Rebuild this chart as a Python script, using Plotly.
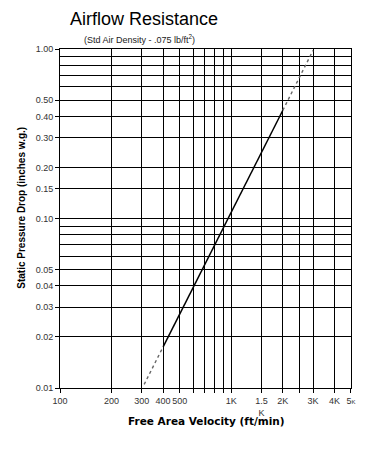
import plotly.graph_objects as go

# Curve (velocity ft/min, pressure in. w.g.)
low_v = [310, 400]
low_p = [0.0105, 0.0175]
solid_v = [400, 500, 600, 700, 800, 900, 1000, 1500, 2000]
solid_p = [0.0175, 0.0273, 0.039, 0.054, 0.070, 0.089, 0.109, 0.245, 0.435]
high_v = [2000, 2500, 3000]
high_p = [0.435, 0.68, 0.98]

x_tickvals = [100, 200, 300, 400, 500, 1000, 1500, 2000, 3000, 4000, 5000]
x_ticktext = ["100", "200", "300", "400", "500", "1K", "1.5<br>K", "2K", "3K", "4K",
              "5<span style='font-size:6px'>K</span>"]
x_minor = [600, 700, 800, 900, 2500]
y_tickvals = [0.01, 0.02, 0.03, 0.04, 0.05, 0.10, 0.15, 0.20, 0.30, 0.40, 0.50, 1.00]
y_ticktext = ["0.01", "0.02", "0.03", "0.04", "0.05", "0.10", "0.15", "0.20", "0.30", "0.40", "0.50", "1.00"]
y_minor = [0.06, 0.07, 0.08, 0.09, 0.6, 0.7, 0.8, 0.9]

fig = go.Figure()
fig.add_trace(go.Scatter(x=low_v, y=low_p, mode="lines",
                         line=dict(color="#666666", width=1.4, dash="dot"), showlegend=False))
fig.add_trace(go.Scatter(x=solid_v, y=solid_p, mode="lines",
                         line=dict(color="black", width=1.5), showlegend=False))
fig.add_trace(go.Scatter(x=high_v, y=high_p, mode="lines",
                         line=dict(color="#666666", width=1.4, dash="dot"), showlegend=False))

tick_font = dict(family="Liberation Sans, Arial", size=9, color="#333333")

L, T, W, H = 60, 49, 291, 339.6

fig.update_layout(
    width=369, height=450,
    margin=dict(l=60, r=18, t=49, b=62),
    paper_bgcolor="white", plot_bgcolor="white",
    xaxis=dict(type="log", range=[2, 3.699], tickmode="array",
               tickvals=x_tickvals, ticktext=x_ticktext, tickangle=0,
               showgrid=True, gridcolor="black", gridwidth=1.2,
               ticks="outside", ticklen=4, tickcolor="black", tickwidth=1,
               showline=True, linecolor="black", linewidth=1, mirror=True,
               tickfont=tick_font, zeroline=False,
               minor=dict(tickvals=x_minor, showgrid=True, gridcolor="black",
                          gridwidth=1.2, ticks="outside", ticklen=4,
                          tickcolor="black", tickwidth=1)),
    yaxis=dict(type="log", range=[-2, 0], tickmode="array",
               tickvals=y_tickvals, ticktext=y_ticktext,
               showgrid=True, gridcolor="black", gridwidth=1.2,
               ticks="outside", ticklen=4, tickcolor="black", tickwidth=1,
               showline=True, linecolor="black", linewidth=1, mirror=True,
               tickfont=tick_font, zeroline=False,
               minor=dict(tickvals=y_minor, showgrid=True, gridcolor="black",
                          gridwidth=1.2, ticks="")),
)

fig.add_annotation(text="Airflow Resistance", xref="paper", yref="paper",
                   x=(68 - L) / W, y=1 + (T - 19) / H, xanchor="left", yanchor="middle",
                   showarrow=False, font=dict(family="Liberation Sans, Arial", size=18, color="black"))
fig.add_annotation(text="(Std Air Density - .075 lb/ft<sup>2</sup>)", xref="paper", yref="paper",
                   x=(82 - L) / W, y=1 + (T - 39) / H, xanchor="left", yanchor="middle",
                   showarrow=False, font=dict(family="Liberation Sans, Arial", size=9, color="#222222"))
fig.add_annotation(text="<b>Free Area Velocity (ft/min)</b>", xref="paper", yref="paper",
                   x=(206 - L) / W, y=-(422 - (T + H)) / H, xanchor="center", yanchor="middle",
                   showarrow=False, font=dict(family="DejaVu Sans, Verdana", size=10.5, color="black"))
fig.add_annotation(text="<b>Static Pressure Drop (inches w.g.)</b>", xref="paper", yref="paper",
                   x=-(L - 22) / W, y=((T + H) - 208) / H, xanchor="center", yanchor="middle",
                   textangle=-90,
                   showarrow=False, font=dict(family="Liberation Sans, Arial", size=10, color="black"))

fig.write_html("out.html", config={"displayModeBar": False},
               post_script="document.body.style.margin='0';")
